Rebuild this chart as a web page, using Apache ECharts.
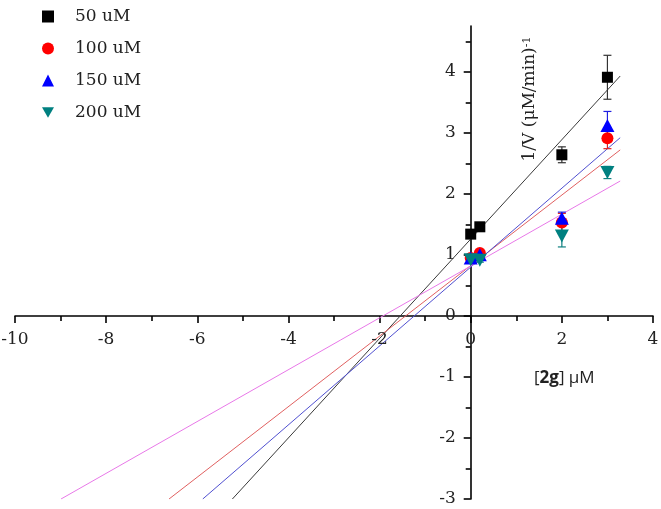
<!DOCTYPE html>
<html><head><meta charset="utf-8">
<script src="https://cdn.jsdelivr.net/npm/echarts@6/dist/echarts.min.js"></script>
<style>html,body{margin:0;padding:0;background:#fff}#c{width:661px;height:509px}</style>
</head><body><div id="c"></div>
<script>
const seriesNames = ['50 uM', '100 uM', '150 uM', '200 uM'];
const xValues = [0, 0.2, 2, 3];
const y50 = [1.34, 1.46, 2.64, 3.91];
const y100 = [0.95, 1.03, 1.53, 2.91];
const y150 = [0.95, 1.00, 1.60, 3.12];
const y200 = [0.92, 0.91, 1.31, 2.35];
const err50 = [0.03, 0.03, 0.13, 0.36];
const err100 = [0.03, 0.04, 0.15, 0.17];
const err150 = [0.03, 0.03, 0.10, 0.23];
const err200 = [0.03, 0.03, 0.18, 0.10];
const fit50 = [[-5.23, -3], [3.28, 3.93]];
const fit100 = [[-6.62, -3], [3.28, 2.72]];
const fit150 = [[-5.88, -3], [3.28, 2.92]];
const fit200 = [[-8.99, -3], [3.28, 2.21]];
const xTicks = [-10, -8, -6, -4, -2, 0, 2, 4];
const yTicks = [-3, -2, -1, 0, 1, 2, 3, 4];
const yMinorTicks = [-2.5, -1.5, -0.5, 0.5, 1.5, 2.5, 3.5, 4.5];

const markerColors = ['#000000', '#ff0000', '#0000ff', '#008080'];
const errColors = ['#333333', '#e02020', '#2020e0', '#108080'];
const lineColors = ['#3a3a3a', '#e06060', '#5050d0', '#e878e8'];
const symbols = ['rect', 'circle', 'triangle', 'path://M0,0L2,0L1,1.75Z'];
const symbolSizes = [11, 12, [14, 13], [14, 13]];
const ys = [y50, y100, y150, y200];
const errs = [err50, err100, err150, err200];
const fits = [fit50, fit100, fit150, fit200];

const FONT = 'DejaVu Serif';
const LABEL_SIZE = 17;
const chart = echarts.init(document.getElementById('c'));

const series = [];
fits.forEach((f, i) => {
  series.push({
    type: 'line', name: 'fit' + i, data: f, showSymbol: false, symbol: 'none',
    lineStyle: { color: lineColors[i], width: 1 }, z: 2, silent: true
  });
});
ys.forEach((yv, i) => {
  series.push({
    type: 'custom', name: 'err' + i, z: 3, silent: true,
    data: xValues.map((x, k) => [x, yv[k], errs[i][k]]),
    renderItem: function (params, api) {
      const x = api.value(0), y = api.value(1), e = api.value(2);
      const top = api.coord([x, y + e]);
      const bot = api.coord([x, y - e]);
      const hw = 4;
      const st = { stroke: errColors[i], lineWidth: 1.2 };
      return { type: 'group', children: [
        { type: 'line', shape: { x1: top[0], y1: top[1], x2: bot[0], y2: bot[1] }, style: st },
        { type: 'line', shape: { x1: top[0] - hw, y1: top[1], x2: top[0] + hw, y2: top[1] }, style: st },
        { type: 'line', shape: { x1: bot[0] - hw, y1: bot[1], x2: bot[0] + hw, y2: bot[1] }, style: st }
      ]};
    }
  });
});
ys.forEach((yv, i) => {
  series.push({
    type: 'scatter', name: seriesNames[i], z: 4,
    data: xValues.map((x, k) => [x, yv[k]]),
    symbol: symbols[i], symbolSize: symbolSizes[i],
    itemStyle: { color: markerColors[i], opacity: 1 }
  });
});
// tick labels placed beside the on-zero axes, through the axes' scales
series.push({
  type: 'custom', name: 'xTickLabels', z: 5, silent: true, clip: false,
  data: xTicks.map(v => [v, 0]),
  renderItem: function (params, api) {
    const p = api.coord([api.value(0), 0]);
    return { type: 'text', x: p[0], y: p[1] + 24, style: {
      text: String(api.value(0)), fontFamily: FONT, fontSize: LABEL_SIZE, fill: '#222',
      align: 'center', verticalAlign: 'middle' } };
  }
});
series.push({
  type: 'custom', name: 'yTickLabels', z: 5, silent: true, clip: false,
  data: yTicks.map(v => [0, v]),
  renderItem: function (params, api) {
    const p = api.coord([0, api.value(1)]);
    return { type: 'text', x: p[0] - 15, y: p[1], style: {
      text: String(api.value(1)), fontFamily: FONT, fontSize: LABEL_SIZE, fill: '#222',
      align: 'right', verticalAlign: 'middle' } };
  }
});

chart.setOption({
  animation: false,
  backgroundColor: '#ffffff',
  grid: { left: 15, right: 8, top: 26, bottom: 10, outerBoundsMode: 'none' },
  legend: {
    data: seriesNames, orient: 'vertical', left: 37, top: 3,
    itemWidth: 12, itemHeight: 12, itemGap: 15,
    textStyle: { fontFamily: FONT, fontSize: 17, color: '#222', lineHeight: 12, padding: [0, 0, 0, 16] }
  },
  xAxis: {
    type: 'value', min: -10, max: 4, interval: 2,
    axisLine: { onZero: true, onZeroAxisIndex: 0, lineStyle: { color: '#000', width: 1.6 } },
    axisTick: { length: 7, lineStyle: { color: '#000', width: 1.6 } },
    minorTick: { show: true, splitNumber: 2, length: 5, lineStyle: { color: '#000', width: 1.6 } },
    splitLine: { show: false },
    axisLabel: { show: false }
  },
  yAxis: [{
    type: 'value', min: -3, max: 4.75, position: 'left',
    axisLine: { onZero: true, onZeroAxisIndex: 0, lineStyle: { color: '#000', width: 1.6 } },
    axisTick: { length: 7, customValues: yTicks, lineStyle: { color: '#000', width: 1.6 } },
    minorTick: { show: false },
    splitLine: { show: false },
    axisLabel: { show: false }
  }, {
    type: 'value', min: -3, max: 4.75, position: 'left',
    axisLine: { show: false, onZero: true, onZeroAxisIndex: 0 },
    axisTick: { length: 5, customValues: yMinorTicks, lineStyle: { color: '#000', width: 1.6 } },
    splitLine: { show: false },
    axisLabel: { show: false }
  }],
  graphic: [{
    type: 'text', left: 534, top: 370,
    style: {
      text: '[{b|2g}] μM', fontFamily: 'Open Sans', fontSize: 17, fill: '#222',
      rich: { b: { fontFamily: 'Open Sans', fontSize: 17, fontWeight: 'bold', fill: '#222' } }
    }
  }, {
    type: 'text', x: 530, y: 99, rotation: Math.PI / 2,
    style: {
      text: '1/V (μM/min){s|-1}', fontFamily: FONT, fontSize: 17, fill: '#222',
      align: 'center', verticalAlign: 'middle',
      rich: { s: { fontFamily: FONT, fontSize: 11, fill: '#222', verticalAlign: 'top' } }
    }
  }],
  series: series
});
</script>
</body></html>
